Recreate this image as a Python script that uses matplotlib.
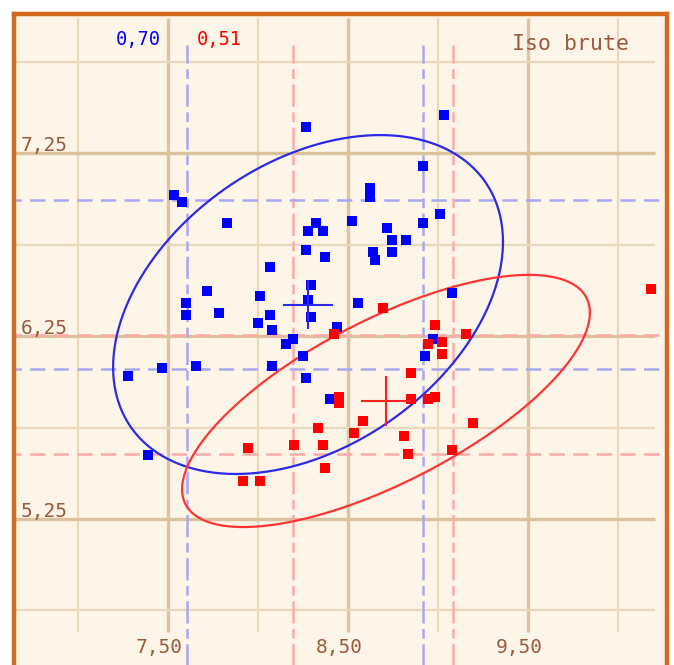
import numpy as np
import matplotlib.pyplot as plt

plt.rcParams['lines.scale_dashes'] = False
plt.rcParams['font.family'] = ['DejaVu Sans Mono', 'DejaVu Sans']

# groupe bleu
blue_x = [8.267, 9.033, 8.917, 7.533, 7.578, 8.622, 8.622, 7.828, 8.522, 8.322,
          8.278, 8.361, 8.717, 8.744, 8.822, 8.639, 8.650, 8.744, 8.917, 9.011,
          8.267, 8.372, 8.067, 7.717, 8.294, 8.011, 7.600, 7.600, 7.783, 8.067,
          8.000, 8.078, 8.278, 8.294, 8.556, 8.439, 8.194, 8.156, 8.250, 8.078,
          8.267, 8.400, 7.467, 7.656, 7.278, 7.389, 9.078, 8.972, 8.928]
blue_y = [7.392, 7.458, 7.179, 7.020, 6.982, 7.059, 7.010, 6.867, 6.878, 6.867,
          6.824, 6.824, 6.840, 6.775, 6.775, 6.709, 6.665, 6.709, 6.867, 6.917,
          6.720, 6.682, 6.627, 6.496, 6.529, 6.469, 6.430, 6.365, 6.376, 6.365,
          6.321, 6.283, 6.447, 6.354, 6.430, 6.299, 6.234, 6.206, 6.141, 6.086,
          6.020, 5.906, 6.075, 6.086, 6.031, 5.600, 6.485, 6.234, 6.141]

# groupe rouge
red_x = [8.694, 8.422, 8.983, 8.944, 9.022, 9.022, 9.156, 8.850, 8.450, 8.450,
         8.850, 8.944, 8.983, 8.583, 8.333, 8.533, 8.200, 8.361, 8.811, 8.833,
         9.078, 8.372, 9.194, 10.183, 7.944, 7.917, 8.011]
red_y = [6.403, 6.261, 6.310, 6.206, 6.217, 6.152, 6.261, 6.048, 5.917, 5.884,
         5.906, 5.906, 5.917, 5.786, 5.747, 5.720, 5.654, 5.654, 5.704, 5.605,
         5.627, 5.529, 5.775, 6.507, 5.638, 5.458, 5.458]

# centre, ecarts et correlation des ellipses
blue_centre = (8.278, 6.422)
blue_spread = (1.083, 0.926)
blue_r = 0.37
red_centre = (8.711, 5.895)
red_spread = (1.133, 0.689)
red_r = 0.70

# limites en pointille
blue_vlines = [7.606, 8.917]
blue_hlines = [6.070, 6.993]
red_vlines = [8.194, 9.083]
red_hlines = [5.605, 6.255]

x_major = [7.5, 8.5, 9.5]
x_minor = [7.0, 8.0, 9.0, 10.0]
y_major = [5.25, 6.25, 7.25]
y_minor = [4.75, 5.75, 6.75, 7.75]
x_labels = ['7,50', '8,50', '9,50']
y_labels = ['5,25', '6,25', '7,25']

blue_value = '0,70'
red_value = '0,51'
title = 'Iso brute'

BROWN = '#9a5a3c'
BLUE = '#0000ff'
RED = '#ff0000'


def ellipse(centre, spread, r, n=300):
    t = np.linspace(0, 2 * np.pi, n)
    x = centre[0] + spread[0] * np.cos(t)
    y = centre[1] + spread[1] * (r * np.cos(t) + np.sqrt(1 - r * r) * np.sin(t))
    return x, y


def cross(ax, centre, color, dx=0.135, dy=0.13):
    cx, cy = centre
    ax.plot([cx - dx, cx + dx], [cy, cy], color=color, lw=1.5, zorder=7)
    ax.plot([cx, cx], [cy - dy, cy + dy], color=color, lw=1.5, zorder=7)


fig = plt.figure(figsize=(6.74, 6.65), dpi=100)
fig.patch.set_facecolor('white')
ax = fig.add_axes([14 / 674, -15 / 665, 653 / 674, 666 / 665])
ax.set_facecolor('#fdf5e7')
ax.set_xlim(6.6444, 10.2722)
ax.set_ylim(4.3702, 8.0096)
ax.set_xticks([])
ax.set_yticks([])
for side in ['left', 'right', 'top', 'bottom']:
    ax.spines[side].set_color('#d2691e')
    ax.spines[side].set_linewidth(3.2)

# quadrillage
ax.vlines(x_minor, 4.63, 7.99, color='#e8d9bd', lw=1.6, zorder=1)
ax.vlines(x_major, 4.63, 7.99, color='#dac5a0', lw=2.4, zorder=1)
ax.hlines(y_minor, 6.65, 10.206, color='#e8d9bd', lw=1.6, zorder=1)
ax.hlines(y_major, 6.65, 10.206, color='#d9c29c', lw=2.4, zorder=1)

# pointilles
ax.vlines(blue_vlines, 4.3, 7.84, color='#a8a8f2', lw=1.8,
          linestyles=[(0, (16, 4, 7, 4))], zorder=2)
ax.vlines(red_vlines, 4.3, 7.84, color='#ffaaaa', lw=1.8,
          linestyles=[(0, (16, 4, 7, 4))], zorder=2)
ax.hlines(blue_hlines, 6.6, 10.3, color='#a8a8f2', lw=1.8,
          linestyles=[(0, (11, 6))], zorder=2)
ax.hlines(red_hlines, 6.6, 10.3, color='#ffaaaa', lw=1.8,
          linestyles=[(0, (11, 6))], zorder=2)

# ellipses
ex, ey = ellipse(blue_centre, blue_spread, blue_r)
ax.plot(ex, ey, color='#2a2ae8', lw=1.6, zorder=3)
ex, ey = ellipse(red_centre, red_spread, red_r)
ax.plot(ex, ey, color='#ff3535', lw=1.6, zorder=3)

# points
ax.plot(blue_x, blue_y, 's', color=BLUE, ms=6.8, mew=0, zorder=5)
ax.plot(red_x, red_y, 's', color=RED, ms=6.8, mew=0, zorder=6)

cross(ax, blue_centre, '#2a2ae8')
cross(ax, red_centre, '#ff2020')

# etiquettes
for y, lab in zip(y_major, y_labels):
    ax.text(6.683, y + 0.012, lab, ha='left', va='baseline',
            fontsize=14, color=BROWN, zorder=8)
for x, lab in zip(x_major, x_labels):
    ax.text(x - 0.05, 4.518, lab, ha='center', va='baseline',
            fontsize=14, color=BROWN, zorder=8)

ax.text(7.211, 7.840, blue_value, ha='left', va='baseline', fontsize=13.5,
        color=BLUE, zorder=8)
ax.text(7.661, 7.840, red_value, ha='left', va='baseline', fontsize=13.5,
        color=RED, zorder=8)
ax.text(9.411, 7.813, title, ha='left', va='baseline', fontsize=15.5,
        color=BROWN, zorder=8)

fig.savefig('out.png', dpi=100)
